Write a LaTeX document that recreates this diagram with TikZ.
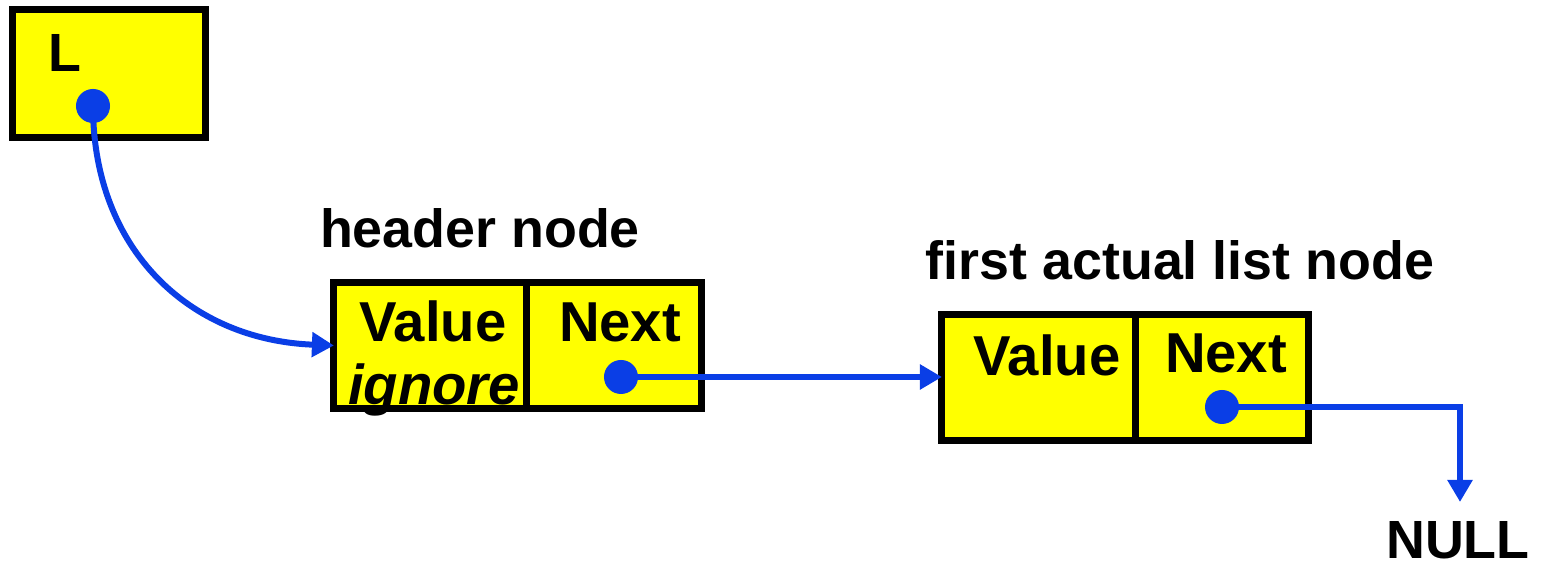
\documentclass[tikz,border=0pt]{standalone}
\usepackage{fontspec}
\setmainfont{Liberation Sans}
\usepackage{xcolor}
\usetikzlibrary{arrows.meta,positioning}
\definecolor{cellyellow}{RGB}{255,255,0}
\definecolor{ptrblue}{RGB}{10,62,230}

\begin{document}
\begin{tikzpicture}[x=0.01cm,y=-0.01cm,
  cell/.style={draw,fill=cellyellow,line width=0.7mm,outer sep=0pt,minimum height=1.25cm,inner sep=0pt},
  lbl/.style={font=\fontsize{15.3}{18}\selectfont\bfseries,anchor=base,inner sep=0pt},
  dot/.style={circle,fill=ptrblue,minimum size=0.34cm,inner sep=0pt},
  ptr/.style={ptrblue,line width=0.6mm,-{Triangle[length=2.2mm,width=2.4mm]}}]
\useasboundingbox (0,0) rectangle (1542,568);
% list head pointer
\node[cell,minimum width=1.92cm,minimum height=1.27cm] (lbox) at (109,73.5) {};
\node[lbl] (ltext) at (65,72) {L};
\node[dot] (ldot) at (93,106) {};
% header node
\node[cell,minimum width=1.92cm] (hval) at (430,345.5) {};
\node[cell,minimum width=1.75cm,right=0pt of hval] (hnext) {};
\node[lbl] (htitle) at (480,248) {header node};
\node[lbl,font=\fontsize{16}{18}\selectfont\bfseries] (hvaltext) at (433,342) {Value};
\node[lbl,font=\fontsize{16}{18}\selectfont\bfseries\itshape] (hignore) at (434,405) {ignore};
\node[lbl,font=\fontsize{16}{18}\selectfont\bfseries] (hnexttext) at (620,342) {Next};
\node[dot] (hdot) at (621,377) {};
% first actual list node
\node[cell,minimum width=1.93cm] (fval) at (1038.5,377.5) {};
\node[cell,minimum width=1.73cm,right=0pt of fval] (fnext) {};
\node[lbl] (ftitle) at (1180,280) {first actual list node};
\node[lbl,font=\fontsize{16}{18}\selectfont\bfseries] (fvaltext) at (1047,376) {Value};
\node[lbl,font=\fontsize{16}{18}\selectfont\bfseries] (fnexttext) at (1226,373) {Next};
\node[dot] (fdot) at (1222,407) {};
\node[lbl] (null) at (1458,559) {NULL};
\coordinate (nullend) at (1460,502);
% pointers
\draw[ptr] (ldot.center) .. controls (93,250) and (190,340) .. (hval.west);
\draw[ptr] (hdot.center) -- (fval.west |- hdot);
\draw[ptr] (fdot.center) -| (nullend);
\end{tikzpicture}
\end{document}
